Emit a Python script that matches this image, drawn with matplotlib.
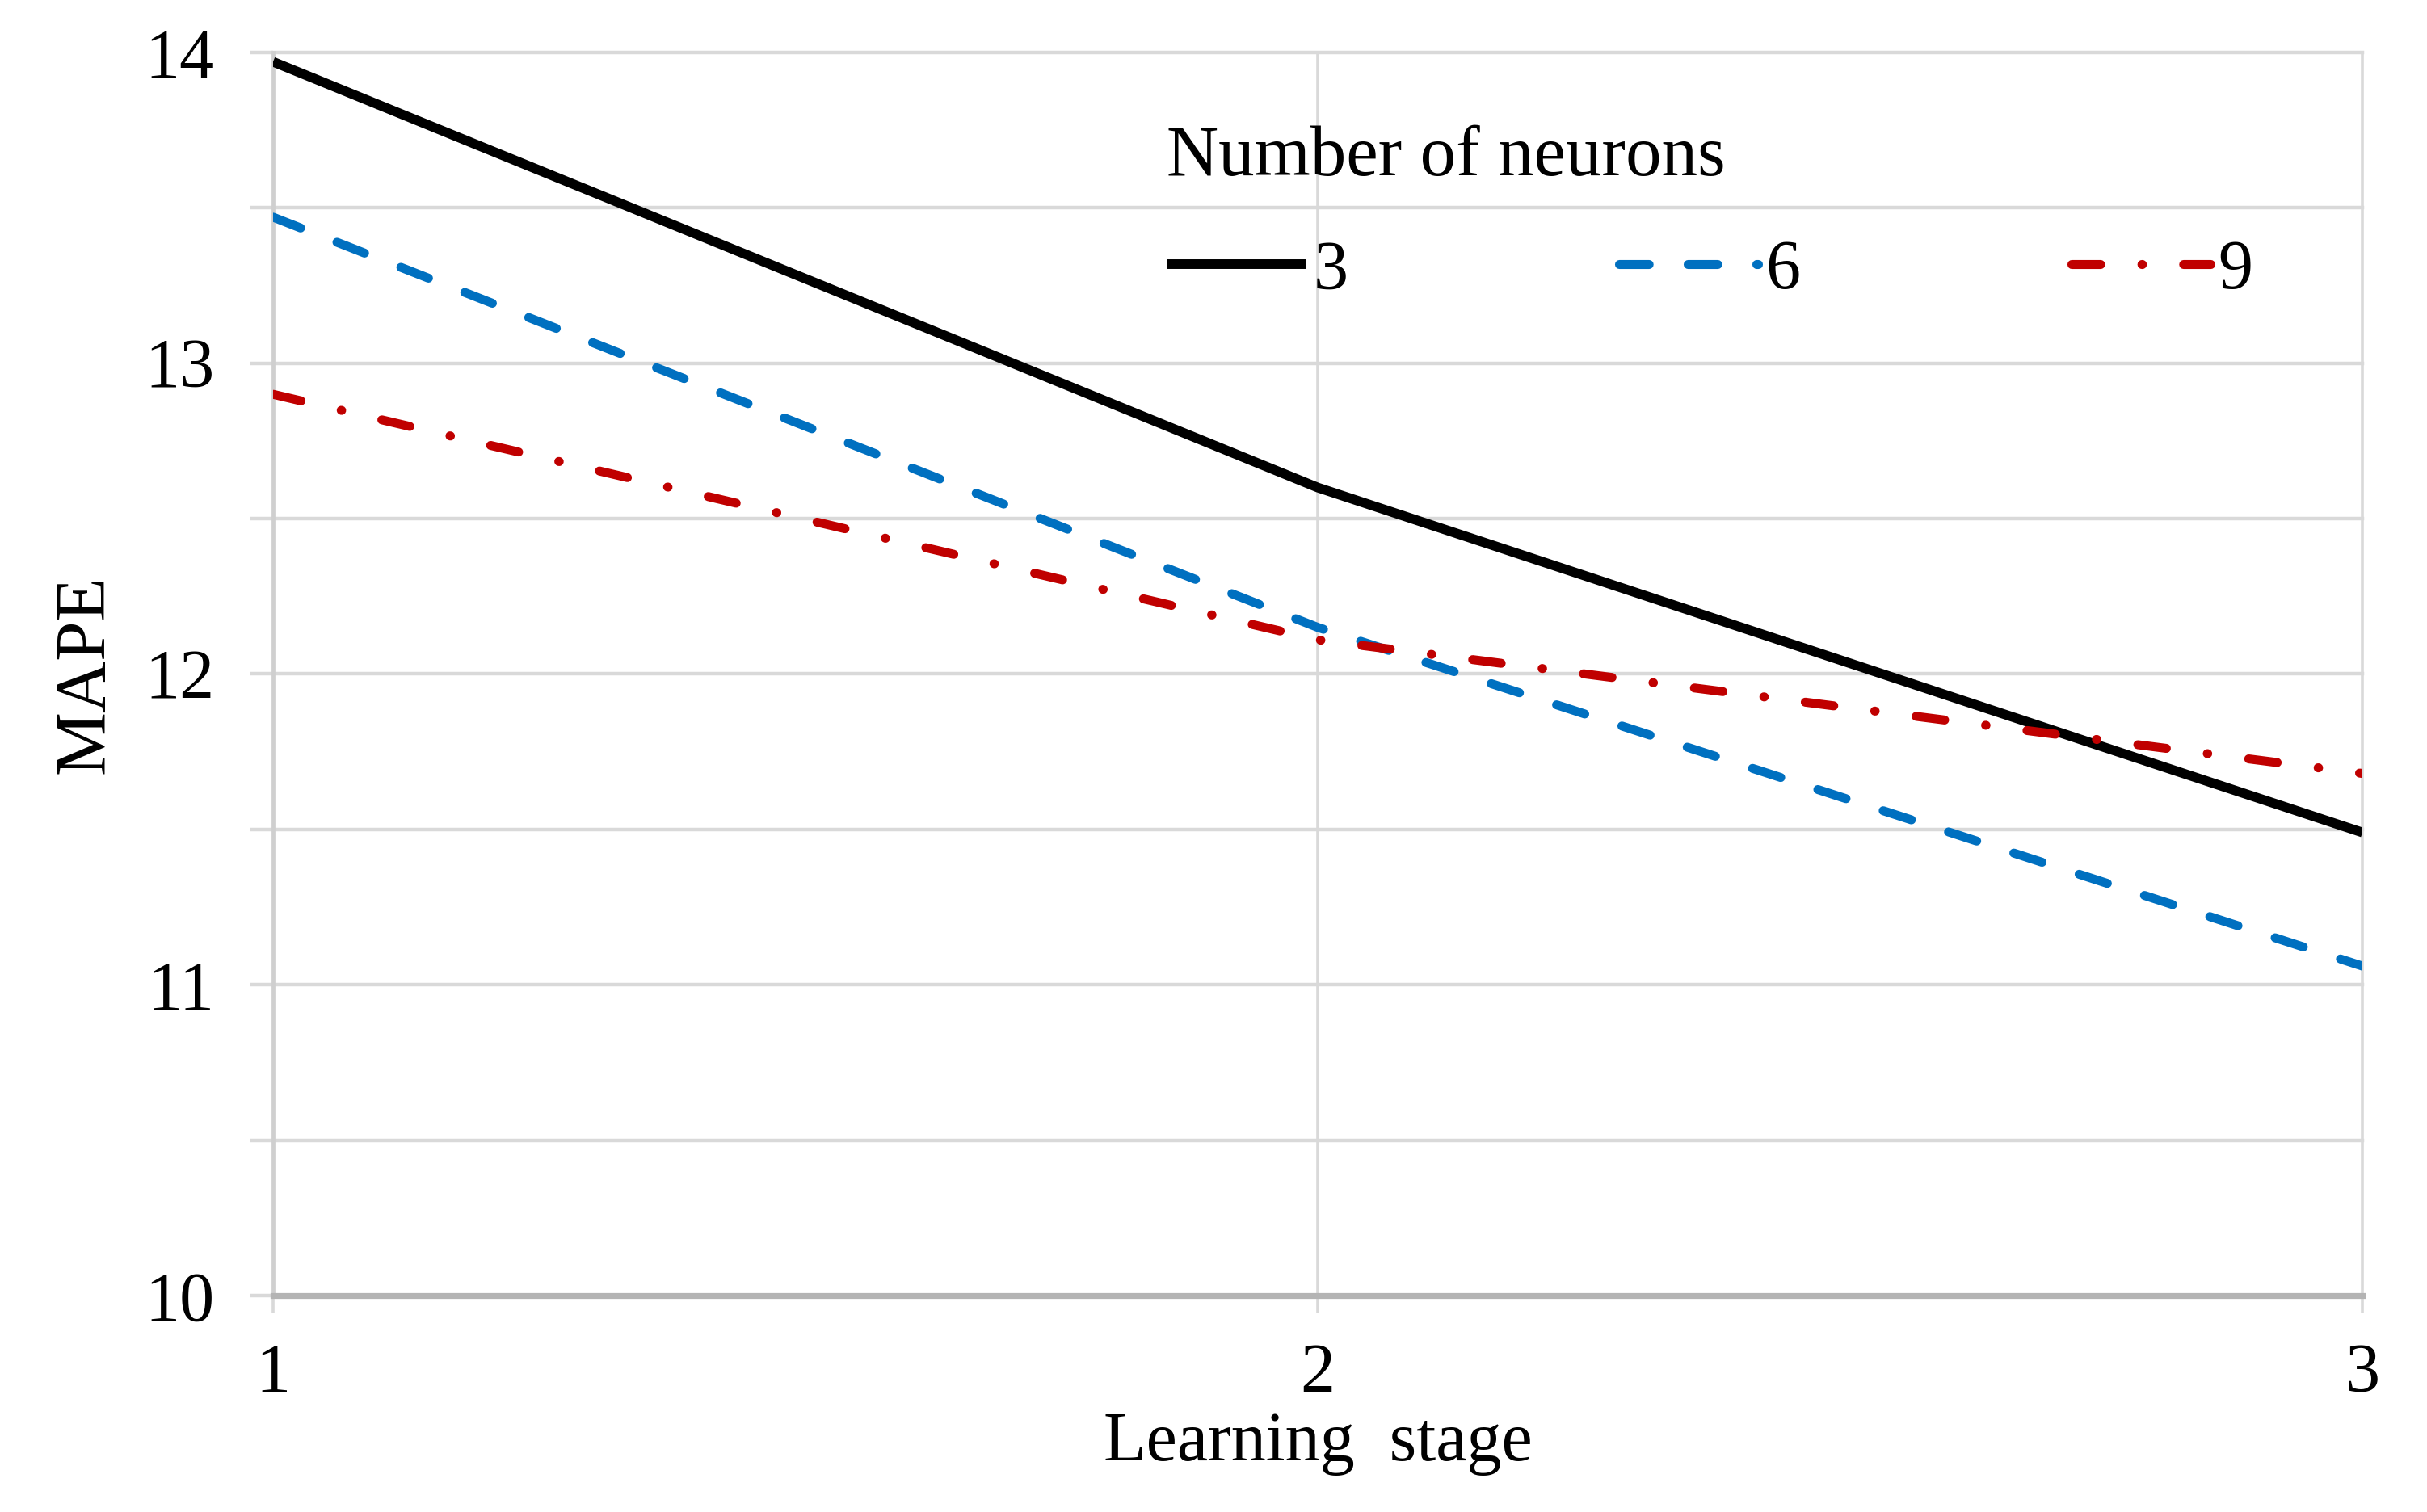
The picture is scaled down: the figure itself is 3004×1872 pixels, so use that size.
import matplotlib
matplotlib.use("Agg")
import matplotlib.pyplot as plt
from matplotlib.ticker import MultipleLocator, FixedLocator

plt.rcParams['font.family'] = ['Liberation Serif', 'DejaVu Serif']

stages = [1, 2, 3]
mape_3 = [13.97, 12.60, 11.49]
mape_6 = [13.47, 12.15, 11.06]
mape_9 = [12.90, 12.11, 11.68]
series_labels = ["3", "6", "9"]
yticks = [10, 11, 12, 13, 14]
xticks = [1, 2, 3]

fig = plt.figure(figsize=(15.02, 9.36), dpi=200)
ax = fig.add_axes([0.1125, 0.1432, 0.8609, 0.8221])

grid_c = '#D9D9D9'
ax.set_xlim(1, 3)
ax.set_ylim(10, 14)

ax.yaxis.set_major_locator(FixedLocator(yticks))
ax.yaxis.set_minor_locator(MultipleLocator(0.5))
ax.xaxis.set_major_locator(FixedLocator(xticks))
ax.set_yticklabels([str(v) for v in yticks])
ax.set_xticklabels([str(v) for v in xticks])

for y in [10.5, 11, 11.5, 12, 12.5, 13, 13.5, 14]:
    ax.axhline(y, color=grid_c, lw=1.6, zorder=0, clip_on=False)
for x in [2, 3]:
    ax.axvline(x, color=grid_c, lw=1.3, zorder=0, clip_on=False)

for s in ['top', 'right']:
    ax.spines[s].set_visible(False)
ax.spines['left'].set_color('#CFCFCF')
ax.spines['left'].set_linewidth(1.7)
ax.spines['bottom'].set_color('#B4B4B4')
ax.spines['bottom'].set_linewidth(2.6)

ax.tick_params(axis='y', which='both', direction='out', length=10, width=1.6,
               color=grid_c, pad=16, labelsize=31)
ax.tick_params(axis='x', which='major', direction='out', length=8, width=1.3,
               color=grid_c, pad=13, labelsize=31)

l1, = ax.plot(stages, mape_3, color='black', lw=4.3, solid_capstyle='butt',
              label=series_labels[0], zorder=3)
l2, = ax.plot(stages, mape_6, color='#0070C0', lw=4.0, dash_capstyle='round',
              dashes=(3.3, 4.35), label=series_labels[1], zorder=3)
l3, = ax.plot(stages, mape_9, color='#C00000', lw=4.0, dash_capstyle='round',
              dashes=(3.2, 4.6, 0.05, 4.6), label=series_labels[2], zorder=3)

ax.set_xlabel("Learning  stage", fontsize=31, labelpad=2)
ax.set_ylabel("MAPE", fontsize=32, labelpad=12)

leg = ax.legend(handles=[l1, l2, l3], ncol=3, title="Number of neurons",
                title_fontsize=32, fontsize=31, frameon=False,
                loc='upper left', bbox_to_anchor=(0.4145, 0.964),
                handlelength=2.0, handletextpad=0.1, columnspacing=3.9,
                alignment='left', labelspacing=0.3, borderaxespad=0.0)
leg._legend_box.sep = 22

fig.savefig("out.png", dpi=200)
